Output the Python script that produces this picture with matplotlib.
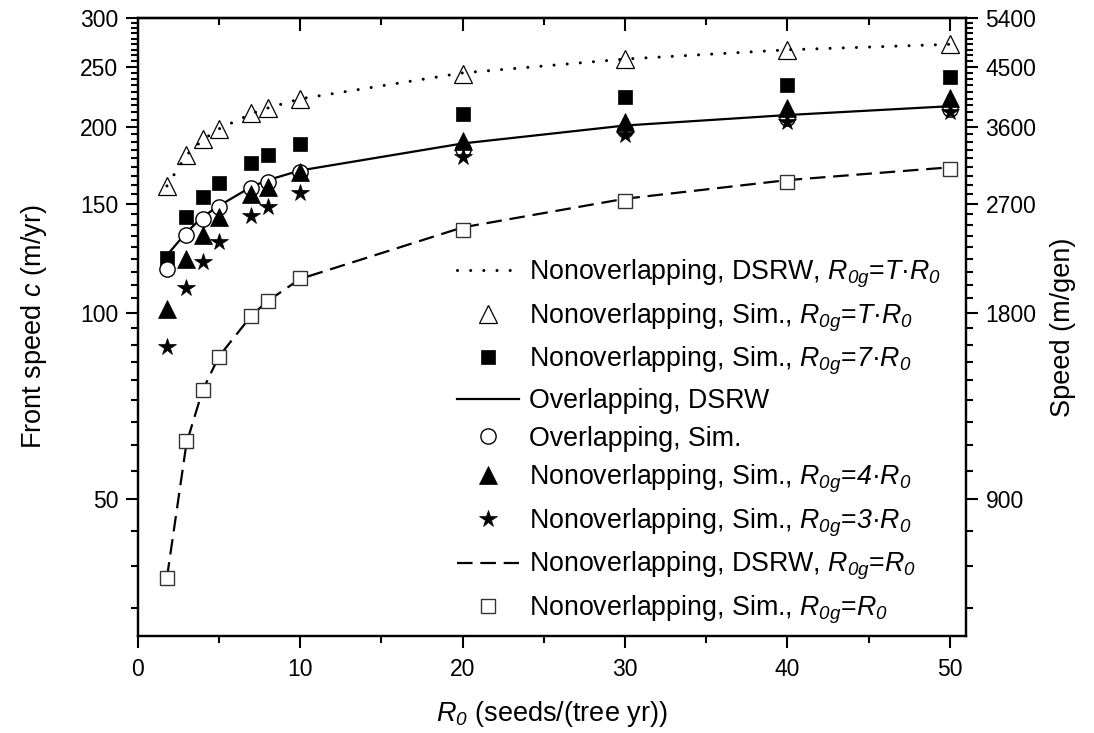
import matplotlib
matplotlib.use("Agg")
import matplotlib.pyplot as plt
from matplotlib.ticker import FixedLocator, FixedFormatter, NullFormatter

plt.rcParams['font.family'] = ['Liberation Sans', 'DejaVu Sans']
plt.rcParams['mathtext.fontset'] = 'custom'
# all math in this chart is italic (symbols and their subscripts)
plt.rcParams['mathtext.rm'] = 'Liberation Sans:italic'
plt.rcParams['mathtext.it'] = 'Liberation Sans:italic'
plt.rcParams['mathtext.bf'] = 'Liberation Sans:bold'

# ---------------- data ----------------
R0 = [1.8, 3, 4, 5, 7, 8, 10, 20, 30, 40, 50]
dsrw_nonoverlap_T = [160.5, 180, 190.5, 198.5, 210, 214.5, 222, 244.5, 257.5, 266.5, 272]
sim_nonoverlap_T = [160.4, 180, 190.8, 198.5, 210.3, 214.7, 222, 243.6, 257.2, 266.1, 271.9]
sim_nonoverlap_7 = [122.8, 143.1, 153.8, 162.4, 175, 180.1, 187.9, 210, 223.5, 233.5, 240.5]
dsrw_overlap = [124, 135, 143, 149, 160, 164, 170, 188, 201, 209, 216]
sim_overlap = [117.7, 133.7, 141.9, 148.5, 159.4, 163, 169.2, 184.4, 197.7, 206.9, 213.7]
sim_nonoverlap_4 = [101.3, 122.2, 133.5, 142.8, 155.5, 159.8, 169, 190, 203.9, 214.9, 222.9]
sim_nonoverlap_3 = [88.2, 109.6, 121, 130.4, 143.5, 148.2, 156.5, 178.7, 193.8, 203.7, 211]
dsrw_nonoverlap_1 = [37.3, 61.5, 75, 85, 99, 104.5, 113.5, 137.5, 153, 164, 172]
sim_nonoverlap_1 = [37.3, 62, 75.1, 84.8, 99, 104.7, 113.7, 136.2, 152, 162.9, 171.2]

labels = [
    r"Nonoverlapping, DSRW, $R_{0g}$=$T$·$R_{0}$",
    r"Nonoverlapping, Sim., $R_{0g}$=$T$·$R_{0}$",
    r"Nonoverlapping, Sim., $R_{0g}$=$7$·$R_{0}$",
    "Overlapping, DSRW",
    "Overlapping, Sim.",
    r"Nonoverlapping, Sim., $R_{0g}$=$4$·$R_{0}$",
    r"Nonoverlapping, Sim., $R_{0g}$=$3$·$R_{0}$",
    r"Nonoverlapping, DSRW, $R_{0g}$=$R_{0}$",
    r"Nonoverlapping, Sim., $R_{0g}$=$R_{0}$",
]

left_major = [50, 100, 150, 200, 250, 300]
right_major = [900, 1800, 2700, 3600, 4500, 5400]
x_major = [0, 10, 20, 30, 40, 50]
x_minor = [5, 15, 25, 35, 45]

# ---------------- figure ----------------
fig = plt.figure(figsize=(10.94, 7.33), dpi=100)
ax = fig.add_axes([0.1259, 0.1323, 0.7571, 0.8431])
ax.set_yscale('log')
ax.set_xlim(0, 51)
ax.set_ylim(30, 300)

h = []
h += ax.plot(R0, dsrw_nonoverlap_T, color='black', lw=2.2, linestyle=(0, (0.01, 4.3)),
             dash_capstyle='round', zorder=2)
h += ax.plot(R0, sim_nonoverlap_T, linestyle='none', marker='^', ms=12.5, mfc='none',
             mec='black', mew=0.9, zorder=3)
h += ax.plot(R0, sim_nonoverlap_7, linestyle='none', marker='s', ms=9.5, mfc='black',
             mec='black', mew=0.5, zorder=3)
h += ax.plot(R0, dsrw_overlap, color='black', lw=1.6, linestyle='-', zorder=2)
h += ax.plot(R0, sim_overlap, linestyle='none', marker='o', ms=11, mfc='white',
             mec='black', mew=1.0, zorder=3)
h += ax.plot(R0, sim_nonoverlap_4, linestyle='none', marker='^', ms=12.5, mfc='black',
             mec='black', mew=0.5, zorder=4)
h += ax.plot(R0, sim_nonoverlap_3, linestyle='none', marker='*', ms=13, mfc='black',
             mec='black', mew=0.5, zorder=4)
h += ax.plot(R0, dsrw_nonoverlap_1, color='black', lw=1.6, linestyle=(0, (7.0, 3.5)),
             zorder=2)
h += ax.plot(R0, sim_nonoverlap_1, linestyle='none', marker='s', ms=9.5, mfc='white',
             mec='#333333', mew=1.0, zorder=3)

# axes styling
for sp in ax.spines.values():
    sp.set_linewidth(1.6)

ax.xaxis.set_major_locator(FixedLocator(x_major))
ax.xaxis.set_minor_locator(FixedLocator(x_minor))
ax.yaxis.set_major_locator(FixedLocator(left_major))
ax.yaxis.set_major_formatter(FixedFormatter([str(v) for v in left_major]))
ax.yaxis.set_minor_locator(FixedLocator([50 * k / 9 for k in range(6, 55) if k % 9]))
ax.yaxis.set_minor_formatter(NullFormatter())
ax.tick_params(axis='both', which='major', direction='out', length=8.5, width=1.5,
               labelsize=16.5, pad=5.5)
ax.tick_params(axis='both', which='minor', direction='out', length=5, width=1.5)
ax.tick_params(axis='y', right=False)
ax.tick_params(axis='x', top=False, pad=7)

top = ax.secondary_xaxis('top')
top.xaxis.set_major_locator(FixedLocator(x_major))
top.xaxis.set_minor_locator(FixedLocator(x_minor))
top.tick_params(axis='x', which='major', direction='in', length=9, width=1.5, labeltop=False)
top.tick_params(axis='x', which='minor', direction='in', length=5, width=1.5)
top.spines['top'].set_linewidth(1.6)

ax2 = ax.twinx()
ax2.set_yscale('log')
ax2.set_ylim(540, 5400)
ax2.yaxis.set_major_locator(FixedLocator(right_major))
ax2.yaxis.set_major_formatter(FixedFormatter([str(v) for v in right_major]))
ax2.yaxis.set_minor_locator(FixedLocator([100 * k for k in range(6, 54) if k % 9]))
ax2.yaxis.set_minor_formatter(NullFormatter())
ax2.tick_params(axis='y', which='major', direction='out', length=8.5, width=1.5,
                labelsize=16.5, pad=5.5)
ax2.tick_params(axis='y', which='minor', direction='out', length=5, width=1.5)
for sp in ax2.spines.values():
    sp.set_linewidth(1.6)

ax.set_xlabel(r"$R_{0}$ (seeds/(tree yr))", fontsize=19.5, labelpad=13)
ax.set_ylabel(r"Front speed $c$ (m/yr)", fontsize=19.5, labelpad=22)
ax2.set_ylabel("Speed (m/gen)", fontsize=19.5, labelpad=10)

ax.legend(h, labels, loc='upper left', bbox_to_anchor=(0.3855, 0.612), frameon=False,
          fontsize=19.3, handlelength=2.3, handletextpad=0.38, labelspacing=0.42,
          borderpad=0, borderaxespad=0, numpoints=1)

fig.savefig('out.png', dpi=100)
